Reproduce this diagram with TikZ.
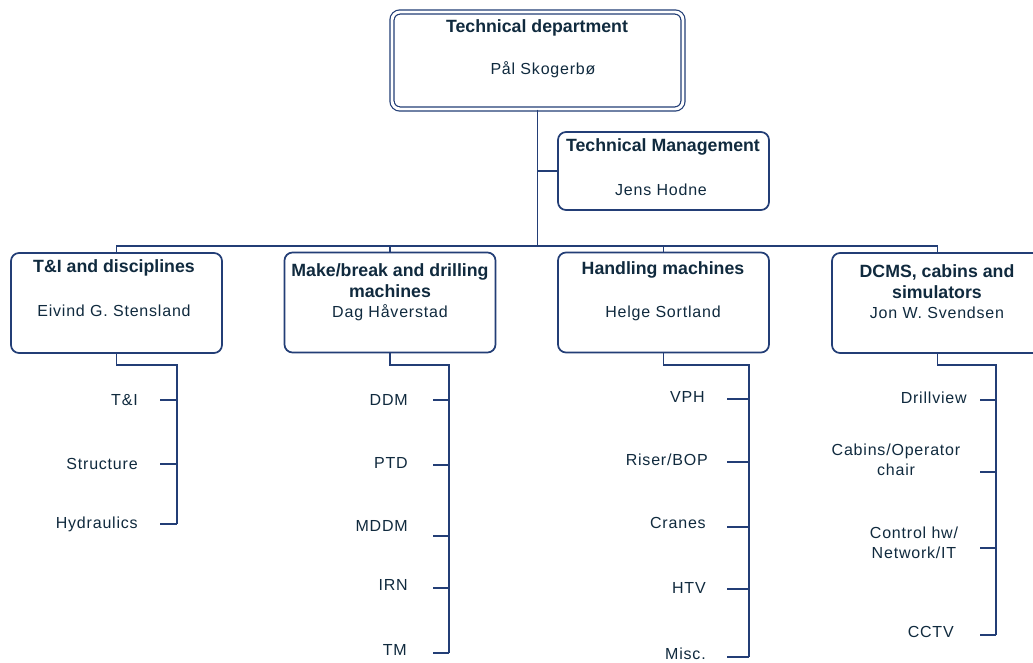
\documentclass[tikz,border=0pt]{standalone}
\usepackage{fontspec}
\setmainfont[LetterSpace=5]{Liberation Sans}
\newfontfamily\boldf{Liberation Sans Bold}
\definecolor{linec}{RGB}{35,62,118}
\definecolor{textc}{RGB}{16,42,62}
\begin{document}
\begin{tikzpicture}[x=0.75pt,y=-0.75pt,
  conn/.style={draw=linec,line width=1.3pt},
  box/.style={draw=linec,line width=1.3pt,rounded corners=6pt,minimum width=158.25pt,minimum height=75pt,inner sep=0pt,fill=white},
  ttl/.style={text=textc,font=\boldf\fontsize{13.3}{15.75}\selectfont,align=center,inner sep=0pt},
  nm/.style={text=textc,font=\fontsize{12}{15}\selectfont,align=center,inner sep=0pt},
  lbl/.style={text=textc,font=\fontsize{12}{15}\selectfont,align=center,inner sep=0pt}]
\clip (0,0) rectangle (1033,663);
\fill[white] (0,0) rectangle (1033,663);
% top box
\node[draw=linec,line width=0.9pt,double=white,double distance=2.2pt,rounded corners=6pt,
  minimum width=218.25pt,minimum height=72.75pt,inner sep=0pt] (top) at (537.5,60.5) {};
\node[ttl] (topt) at (537,28) {Technical department};
\node[nm] (topn) at (543,70) {Pål Skogerbø};
% technical management
\node[box,minimum height=58.5pt] (tm) at (663.5,171) {};
\node[ttl] (tmt) at (663,147) {Technical Management};
\node[nm] (tmn) at (661,190) {Jens Hodne};
% department boxes
\node[box] (b1) at (116.5,303) {};
\node[box] (b2) at (390,302.5) {};
\node[box] (b3) at (663.5,302.5) {};
\node[box] (b4) at (937.5,303) {};
\node[ttl] (b1t) at (114,268) {T\&I and disciplines};
\node[nm] (b1n) at (114,311) {Eivind G. Stensland};
\node[ttl] (b2t) at (390,280.5) {Make/break and drilling\\machines};
\node[nm] (b2n) at (390,313) {Dag Håverstad};
\node[ttl] (b3t) at (663,270) {Handling machines};
\node[nm] (b3n) at (663,313) {Helge Sortland};
\node[ttl] (b4t) at (937,281.5) {DCMS, cabins and\\simulators};
\node[nm] (b4n) at (937,313) {Jon W. Svendsen};
% upper connectors
\coordinate (bus) at (537,246);
\draw[conn] (top.south) -- (top.south |- bus);
\draw[conn] (top.south |- tm.west) -- (tm.west);
\draw[conn] (b1.north) -- (b1.north |- bus) -| (b4.north);
\draw[conn] (b2.north) -- (b2.north |- bus);
\draw[conn] (b3.north) -- (b3.north |- bus);
% list 1
\coordinate (v1a) at (177,365); \coordinate (v1b) at (177,524);
\draw[conn] (b1.south) |- (v1a) -- (v1b);
\foreach \y/\n in {400/a,464/b,524/c}{\coordinate (t1\n) at (160,\y); \draw[conn] (t1\n) -- (t1\n -| v1a);}
\node[lbl,anchor=east] (l11) at (138,400) {T\&I};
\node[lbl,anchor=east] (l12) at (138,464) {Structure};
\node[lbl,anchor=east] (l13) at (138,524) {Hydraulics};
% list 2
\coordinate (v2a) at (449,365); \coordinate (v2b) at (449,653);
\draw[conn] (b2.south) |- (v2a) -- (v2b);
\foreach \y/\n in {400/a,465/b,536/c,588/d,653/e}{\coordinate (t2\n) at (433,\y); \draw[conn] (t2\n) -- (t2\n -| v2a);}
\node[lbl,anchor=east] (l21) at (408,400) {DDM};
\node[lbl,anchor=east] (l22) at (408,463) {PTD};
\node[lbl,anchor=east] (l23) at (408,526) {MDDM};
\node[lbl,anchor=east] (l24) at (408,585) {IRN};
\node[lbl,anchor=east] (l25) at (407,650) {TM};
% list 3
\coordinate (v3a) at (749,365); \coordinate (v3b) at (749,657);
\draw[conn] (b3.south) |- (v3a) -- (v3b);
\foreach \y/\n in {399/a,462/b,527/c,589/d,657/e}{\coordinate (t3\n) at (727,\y); \draw[conn] (t3\n) -- (t3\n -| v3a);}
\node[lbl,anchor=east] (l31) at (705,397) {VPH};
\node[lbl,anchor=east] (l32) at (708,460) {Riser/BOP};
\node[lbl,anchor=east] (l33) at (706,523) {Cranes};
\node[lbl,anchor=east] (l34) at (706,588) {HTV};
\node[lbl,anchor=east] (l35) at (706,653.5) {Misc.};
% list 4
\coordinate (v4a) at (996,365); \coordinate (v4b) at (996,635);
\draw[conn] (b4.south) |- (v4a) -- (v4b);
\foreach \y/\n in {400/a,472/b,548/c,635/d}{\coordinate (t4\n) at (980,\y); \draw[conn] (t4\n) -- (t4\n -| v4a);}
\node[lbl,anchor=east] (l41) at (967,398) {Drillview};
\node[lbl] (l42) at (896,459.5) {Cabins/Operator\\chair};
\node[lbl] (l43) at (914,543) {Control hw/\\Network/IT};
\node[lbl,anchor=east] (l44) at (954,632) {CCTV};
\end{tikzpicture}
\end{document}
